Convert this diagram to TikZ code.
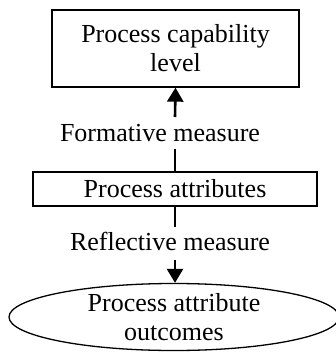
\documentclass[tikz,border=0pt]{standalone}
\usepackage{fontspec}
\setmainfont{Liberation Serif}
\usetikzlibrary{arrows.meta,shapes.geometric}
\begin{document}
\begin{tikzpicture}[x=1pt, y=-1pt,
    every node/.style={font=\fontsize{26}{29}\selectfont, align=center},
    boite/.style={draw, line width=1.3pt, inner sep=0pt},
    lien/.style={line width=2.6pt},
    fleche/.style={lien, -{Triangle[length=14pt, width=16pt]}}]
    \useasboundingbox (0,0) rectangle (335,352);

    % Boites
    \node[boite, minimum width=247, minimum height=77] (cap) at (175.5,48.5)
      {Process capability\\level};
    \node[boite, minimum width=284, minimum height=34] (attr) at (175,189)
      {Process attributes};
    \node[boite, ellipse, minimum width=330, minimum height=67] (out) at (174,317)
      {Process attribute\\outcomes};

    % Etiquettes
    \node[anchor=base, inner sep=0pt] (form) at (160,142) {Formative measure};
    \node[anchor=base, inner sep=0pt] (refl) at (170,250) {Reflective measure};

    % Liens
    \draw[lien] (attr.north) -- ++(0,-22);
    \draw[fleche] (attr.north |- 0,117) -- (cap.south);
    \draw[lien] (attr.south) -- ++(0,20);
    \draw[fleche] (attr.south |- 0,260) -- (attr.south |- out.north);
\end{tikzpicture}
\end{document}
